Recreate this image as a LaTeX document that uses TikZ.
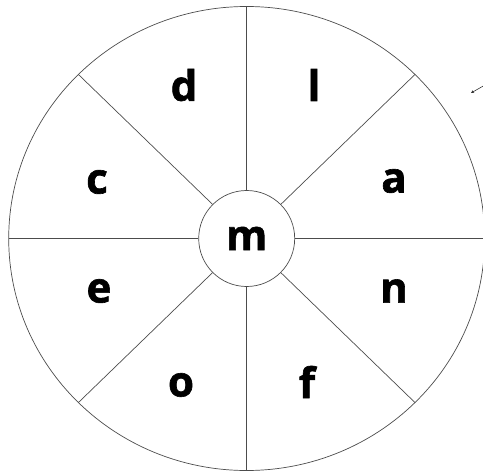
\documentclass[tikz,border=0pt]{standalone}
\usepackage{fontspec}
\setsansfont{Open Sans}[BoldFeatures={FakeBold=1.5}]
\usetikzlibrary{calc,arrows.meta}
\tikzset{
	letter/.style={font=\sffamily\bfseries\fontsize{42}{48}\selectfont, inner sep=0pt},
	hub/.style={letter, draw=black!70, line width=0.7pt, circle, minimum size=96pt},
	spoke/.style={line width=0.7pt, black!70},
}
% letters round the wheel: x/y/letter
\newcommand{\wheelletters}[1]{
	\foreach \x/\y/\t [count=\i] in {#1} {
		\node[letter] (let\i) at (\x,\y) {\t};
	};
}

\begin{document}
\begin{tikzpicture}[x=1pt,y=-1pt]
				\useasboundingbox (0,0) rectangle (483,471);
				\node[hub] (hub) at (246.7,238.5) {m};
				\draw[spoke] (hub) ellipse [x radius=238pt, y radius=232pt];
				\foreach \a in {0,45,...,315} {
					\coordinate (rim\a) at ($(hub)+(\a:238pt and 232pt)$);
					\draw[spoke] (hub.\a) -- (rim\a);
				}
				\wheelletters{184/85/d,314/85/l,97/182/c,394/181/a,99/291/e,394/291/n,181/385/o,307/382/f}
				
				\coordinate (tail) at (485,85);
				\coordinate (tip) at (471,93);
				\draw[black!80, line width=0.6pt, -{Stealth[length=3pt,width=3pt]}] (tail) -- (tip);
			\end{tikzpicture}
\end{document}
